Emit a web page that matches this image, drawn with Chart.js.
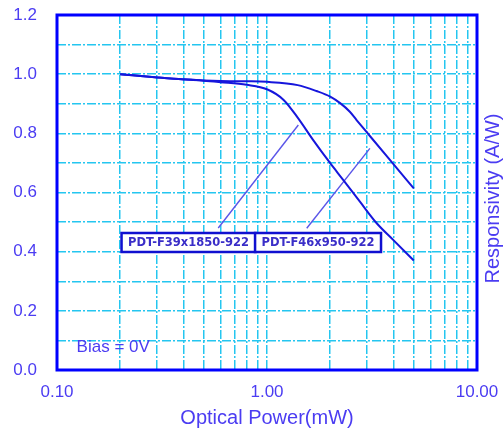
<!DOCTYPE html>
<html>
<head>
<meta charset="utf-8">
<script src="https://cdn.jsdelivr.net/npm/chart.js@4"></script>
<style>
  html, body { margin: 0; padding: 0; background: #fff; }
</style>
</head>
<body>
<canvas id="chart" width="503" height="432"></canvas>
<script>
// Series names (shown in the boxed labels)
const seriesNames = ["PDT-F39x1850-922", "PDT-F46x950-922"];

// PDT-F39x1850-922 : optical power (mW) / responsivity (A/W)
const powerA = [0.2, 0.3, 0.4, 0.5, 0.6, 0.8, 1.0, 1.2, 1.4, 1.66, 2.0, 2.31, 2.77, 3.33, 4.0, 5.0];
const respA = [1.0, 0.989, 0.982, 0.978, 0.973, 0.964, 0.949, 0.913, 0.853, 0.777, 0.699, 0.642, 0.569, 0.496, 0.439, 0.37];

// PDT-F46x950-922
const powerB = [0.2, 0.3, 0.4, 0.5, 0.6, 0.8, 1.0, 1.4, 1.72, 2.0, 2.23, 2.48, 2.67, 3.09, 4.0, 5.0];
const respB = [1.0, 0.989, 0.983, 0.979, 0.977, 0.976, 0.974, 0.963, 0.943, 0.924, 0.902, 0.873, 0.845, 0.791, 0.696, 0.614];

// leader lines from each label box to its curve (data coords)
const leaderX = [[0.586, 1.41], [1.546, 3.09]];
const leaderY = [[0.48, 0.828], [0.479, 0.749]];

// centre of each label box (data coords)
const labelX = [0.423, 1.75];
const labelY = [0.431, 0.431];

// axis ticks
const xTickValues = [0.1, 0.2, 0.3, 0.4, 0.5, 0.6, 0.7, 0.8, 0.9, 1, 2, 3, 4, 5, 6, 7, 8, 9, 10];
const xLabelValues = [0.1, 1, 10];
const xLabelTexts = ["0.10", "1.00", "10.00"];
const yTickValues = [0, 0.1, 0.2, 0.3, 0.4, 0.5, 0.6, 0.7, 0.8, 0.9, 1.0, 1.1, 1.2];
const yLabelValues = [0, 0.2, 0.4, 0.6, 0.8, 1.0, 1.2];
const yLabelTexts = ["0.0", "0.2", "0.4", "0.6", "0.8", "1.0", "1.2"];

const xTitle = "Optical Power(mW)";
const yTitle = "Responsivity (A/W)";
const biasText = "Bias = 0V";
const biasPos = [0.124, 0.076];

const textColor = "#4b3cf2";
const gridColor = "#24c6f0";
const curveColor = "#1616dc";

const toPoints = (xs, ys) => xs.map((v, i) => ({ x: v, y: ys[i] }));

function findLabel(value, values, texts) {
  const i = values.findIndex((v) => Math.abs(v - value) < 1e-9);
  return i >= 0 ? texts[i] : "";
}

// draws the frame, the label boxes, the bias note and the right hand title
const decorPlugin = {
  id: "decor",
  afterDatasetsDraw(chart) {
    const { ctx, scales } = chart;
    const x = scales.x;
    const y = scales.y;
    ctx.save();
    ctx.font = 'bold 11.5px "DejaVu Sans"';
    ctx.textAlign = "center";
    ctx.textBaseline = "middle";
    seriesNames.forEach((name, i) => {
      const cx = x.getPixelForValue(labelX[i]);
      const cy = y.getPixelForValue(labelY[i]);
      const w = ctx.measureText(name).width + 13;
      const h = 19;
      ctx.fillStyle = "#fff";
      ctx.fillRect(cx - w / 2, cy - h / 2, w, h);
      ctx.lineWidth = 2.5;
      ctx.strokeStyle = "#1010d0";
      ctx.strokeRect(cx - w / 2, cy - h / 2, w, h);
      ctx.fillStyle = "#3a2ec8";
      ctx.fillText(name, cx, cy + 0.5);
    });

    // bias note
    ctx.font = '17px "Liberation Sans"';
    ctx.textAlign = "left";
    ctx.fillStyle = textColor;
    ctx.fillText(biasText, x.getPixelForValue(biasPos[0]), y.getPixelForValue(biasPos[1]));
    ctx.restore();
  },
  afterDraw(chart) {
    const { ctx, chartArea: a } = chart;
    ctx.save();
    ctx.lineWidth = 3;
    ctx.strokeStyle = "#0000ff";
    ctx.strokeRect(a.left, a.top, a.right - a.left, a.bottom - a.top);

    // y title on the right, reading bottom to top
    ctx.font = '20px "Liberation Sans"';
    ctx.fillStyle = textColor;
    ctx.textAlign = "center";
    ctx.textBaseline = "middle";
    ctx.translate(a.right + 16, (a.top + a.bottom) / 2 + 6);
    ctx.rotate(-Math.PI / 2);
    ctx.fillText(yTitle, 0, 0);
    ctx.restore();
  },
};

const datasets = [
  {
    label: seriesNames[0],
    data: toPoints(powerA, respA),
    borderColor: curveColor,
    borderWidth: 2,
    cubicInterpolationMode: "monotone",
  },
  {
    label: seriesNames[1],
    data: toPoints(powerB, respB),
    borderColor: curveColor,
    borderWidth: 2,
    cubicInterpolationMode: "monotone",
  },
];
leaderX.forEach((xs, i) => {
  datasets.push({
    label: "leader" + i,
    data: toPoints(xs, leaderY[i]),
    borderColor: "#5a55e8",
    borderWidth: 1.4,
  });
});
datasets.forEach((d) => {
  d.showLine = true;
  d.pointRadius = 0;
  d.fill = false;
});

new Chart(document.getElementById("chart"), {
  type: "scatter",
  data: { datasets: datasets },
  options: {
    responsive: false,
    animation: false,
    layout: { padding: { top: 15, right: 26, bottom: 0, left: 0 } },
    plugins: {
      legend: { display: false },
      tooltip: { enabled: false },
    },
    scales: {
      x: {
        type: "logarithmic",
        position: "bottom",
        min: 0.1,
        max: 10,
        afterBuildTicks: (scale) => {
          scale.ticks = xTickValues.map((v) => ({ value: v }));
        },
        afterFit: (scale) => {
          scale.height = 62;
          scale.paddingLeft = 0;
          scale.paddingRight = 0;
        },
        grid: { color: gridColor, lineWidth: 1.5, drawTicks: false },
        border: { display: false, dash: [9, 2, 2, 2] },
        ticks: {
          autoSkip: false,
          maxRotation: 0,
          minRotation: 0,
          padding: 12,
          color: textColor,
          font: { family: "Liberation Sans", size: 17 },
          callback: (value) => findLabel(value, xLabelValues, xLabelTexts),
        },
        title: {
          display: true,
          text: xTitle,
          color: textColor,
          font: { family: "Liberation Sans", size: 20 },
          padding: { top: 0, bottom: 2 },
        },
      },
      y: {
        min: 0,
        max: 1.2,
        afterBuildTicks: (scale) => {
          scale.ticks = yTickValues.map((v) => ({ value: v }));
        },
        afterFit: (scale) => {
          scale.width = 57;
          scale.paddingTop = 0;
          scale.paddingBottom = 0;
        },
        grid: { color: gridColor, lineWidth: 1.5, drawTicks: false },
        border: { display: false, dash: [9, 2, 2, 2] },
        ticks: {
          autoSkip: false,
          padding: 20,
          color: textColor,
          font: { family: "Liberation Sans", size: 17 },
          callback: (value) => findLabel(value, yLabelValues, yLabelTexts),
        },
      },
    },
  },
  plugins: [decorPlugin],
});
</script>
</body>
</html>
